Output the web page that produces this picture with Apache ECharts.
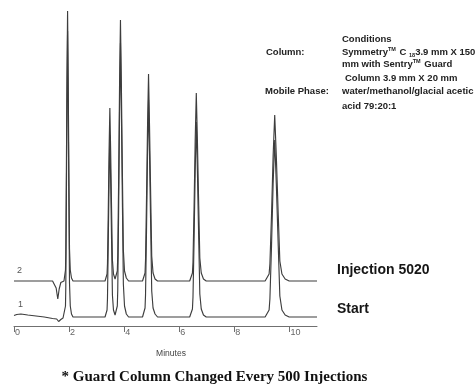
<!DOCTYPE html>
<html><head><meta charset="utf-8">
<script src="https://cdn.jsdelivr.net/npm/echarts@6/dist/echarts.min.js"></script>
<style>html,body{margin:0;padding:0;background:#fff}#c{width:476px;height:385px}</style>
</head><body><div id="c"></div>
<script>
// x axis (minutes)
const X_MIN = 0, X_MAX = 11, X_STEP = 2;
const X_TICK_LABELS = [0, 2, 4, 6, 8, 10];

// Trace 1 — "Start" : [minutes, detector response]
const START_SIGNAL = [
  [0,1.5],[0.1,2.5],[0.25,3],[0.5,2],[0.8,1],[1.1,0],[1.4,-1.5],[1.55,-2],[1.62,-4.5],[1.66,-5.5],[1.70,-2.5],[1.78,-1],
  [1.814,0],[1.869,11],[1.880,29],[1.901,114],[1.923,215],[1.945,286],[1.967,215],[1.993,114],[2.015,34],[2.043,11],[2.087,3],[2.141,0],
  [3.305,0],[3.378,7],[3.393,18],[3.422,73],[3.451,137],[3.48,182],[3.509,137],[3.544,73],[3.573,22],[3.611,7],[3.669,2],
  [3.750,11],[3.767,27],[3.800,110],[3.832,206],[3.865,274],[3.898,206],[3.937,110],[3.970,33],[4.012,11],[4.078,3],[4.160,0],
  [4.666,0],[4.757,9],[4.775,22],[4.811,87],[4.848,163],[4.884,217],[4.920,163],[4.964,87],[5.000,26],[5.048,9],[5.120,3],[5.211,0],
  [6.378,0],[6.478,8],[6.498,20],[6.538,78],[6.578,146],[6.618,195],[6.658,146],[6.706,78],[6.746,23],[6.798,8],[6.878,2],[6.978,0],
  [9.116,0],[9.261,7],[9.290,18],[9.349,71],[9.407,133],[9.465,177],[9.523,133],[9.593,71],[9.651,21],[9.727,7],[9.843,2],[9.989,0],
  [11,0]
];

// Trace 2 — "Injection 5020" : [minutes, detector response]
const INJ_SIGNAL = [
  [0,0],[1.40,0],[1.45,-1],[1.53,-7],[1.59,-18],[1.64,-8],[1.70,-1.5],[1.76,0],
  [1.814,0],[1.869,11],[1.880,27],[1.901,108],[1.923,203],[1.945,270],[1.967,203],[1.993,108],[2.015,32],[2.043,11],[2.087,3],[2.141,0],
  [3.305,0],[3.378,7],[3.393,17],[3.422,69],[3.451,130],[3.48,173],[3.509,130],[3.544,69],[3.573,21],[3.611,7],[3.669,2],
  [3.750,10],[3.767,26],[3.800,104],[3.832,196],[3.865,261],[3.898,196],[3.937,104],[3.970,31],[4.012,10],[4.078,3],[4.160,0],
  [4.666,0],[4.757,8],[4.775,21],[4.811,83],[4.848,155],[4.884,207],[4.920,155],[4.964,83],[5.000,25],[5.048,8],[5.120,2],[5.211,0],
  [6.378,0],[6.478,8],[6.498,19],[6.538,75],[6.578,141],[6.618,188],[6.658,141],[6.706,75],[6.746,23],[6.798,8],[6.878,2],[6.978,0],
  [9.116,0],[9.261,7],[9.290,17],[9.349,66],[9.407,125],[9.465,166],[9.523,125],[9.593,66],[9.651,20],[9.727,7],[9.843,2],[9.989,0],
  [11,0]
];
const INJ_OFFSET = 36;   // vertical stacking offset of trace 2
const Y_MIN = -9, Y_MAX = 312;

const TRACE_NAMES = ['Start', 'Injection 5020'];
const TRACE_NUMBERS = ['1', '2'];
const AXIS_NAME = 'Minutes';
const FOOTNOTE = '* Guard Column Changed Every 500 Injections';

const SANS = '"Liberation Sans", Arial, sans-serif';
const SERIF = '"Liberation Serif", "Times New Roman", serif';

function txt(x, y, text, o) {
  o = o || {};
  return {
    type: 'text', x: x, y: y, silent: true,
    style: Object.assign({
      text: text, fill: o.fill || '#1a1a1a',
      fontSize: o.size || 9.5, fontFamily: o.family || SANS, fontWeight: o.weight || 'bold',
      align: o.align || 'left', verticalAlign: 'middle',
      textAlign: o.align || 'left', textVerticalAlign: 'middle'
    }, o.extra || {})
  };
}

const condFill = '#222';
const condRich = {
  n: {fontSize: 9.5, fontFamily: SANS, fontWeight: 'bold', fill: condFill, lineHeight: 12, verticalAlign: 'middle'},
  t: {fontSize: 5.5, fontFamily: SANS, fontWeight: 'bold', fill: condFill, lineHeight: 12, verticalAlign: 'top', padding: [0, 1, 4, 0]},
  s: {fontSize: 5.5, fontFamily: SANS, fontWeight: 'bold', fill: condFill, lineHeight: 12, verticalAlign: 'bottom', padding: [4, 0, 0, 0]}
};
const graphics = [
  txt(342, 39, 'Conditions', {fill: condFill}),
  txt(266, 52, 'Column:', {fill: condFill}),
  txt(342, 52, '{n|Symmetry}{t|TM}{n| C }{s|18}{n|3.9 mm X 150}', {fill: condFill, extra: {rich: condRich}}),
  txt(342, 64.5, '{n|mm with Sentry}{t|TM}{n| Guard}', {fill: condFill, extra: {rich: condRich}}),
  txt(345, 78, 'Column 3.9 mm X 20 mm', {fill: condFill}),
  txt(265, 91.5, 'Mobile Phase:', {fill: condFill}),
  txt(342, 91.5, 'water/methanol/glacial acetic', {fill: condFill}),
  txt(342, 106, 'acid 79:20:1', {fill: condFill}),
  txt(337, 270, TRACE_NAMES[1], {size: 14, fill: '#161616'}),
  txt(337, 309, TRACE_NAMES[0], {size: 14, fill: '#161616'}),
  txt(17, 271, TRACE_NUMBERS[1], {size: 9, weight: 'normal', fill: '#555'}),
  txt(18, 305, TRACE_NUMBERS[0], {size: 9, weight: 'normal', fill: '#555'}),
  txt(171, 354, AXIS_NAME, {size: 8.5, weight: 'normal', fill: '#444', align: 'center'}),
  txt(214.5, 377.5, FOOTNOTE, {size: 15, family: SERIF, fill: '#111', align: 'center'})
];

const chart = echarts.init(document.getElementById('c'), null, {renderer: 'canvas'});
chart.setOption({
  animation: false,
  backgroundColor: '#fff',
  grid: {left: 14, right: 159, top: 5, bottom: 59},
  xAxis: {
    type: 'value', min: X_MIN, max: X_MAX, interval: X_STEP,
    axisLine: {show: true, onZero: false, lineStyle: {color: '#707070', width: 1}},
    axisTick: {show: true, inside: false, length: 6, customValues: X_TICK_LABELS, lineStyle: {color: '#707070', width: 1}},
    axisLabel: {
      show: true, fontSize: 9, color: '#666', fontFamily: SANS, margin: 2, align: 'left',
      padding: [0, 0, 0, 1], customValues: X_TICK_LABELS,
      formatter: v => X_TICK_LABELS.indexOf(v) >= 0 ? String(v) : ''
    },
    splitLine: {show: false}
  },
  yAxis: {type: 'value', min: Y_MIN, max: Y_MAX, show: false, splitLine: {show: false}},
  series: [
    {type: 'line', name: TRACE_NAMES[0], data: START_SIGNAL, showSymbol: false, symbol: 'none',
     lineStyle: {color: '#3d3d3d', width: 1.15}},
    {type: 'line', name: TRACE_NAMES[1], data: INJ_SIGNAL.map(p => [p[0], p[1] + INJ_OFFSET]), showSymbol: false, symbol: 'none',
     lineStyle: {color: '#3d3d3d', width: 1.15}}
  ],
  graphic: graphics
});
</script>
</body></html>
